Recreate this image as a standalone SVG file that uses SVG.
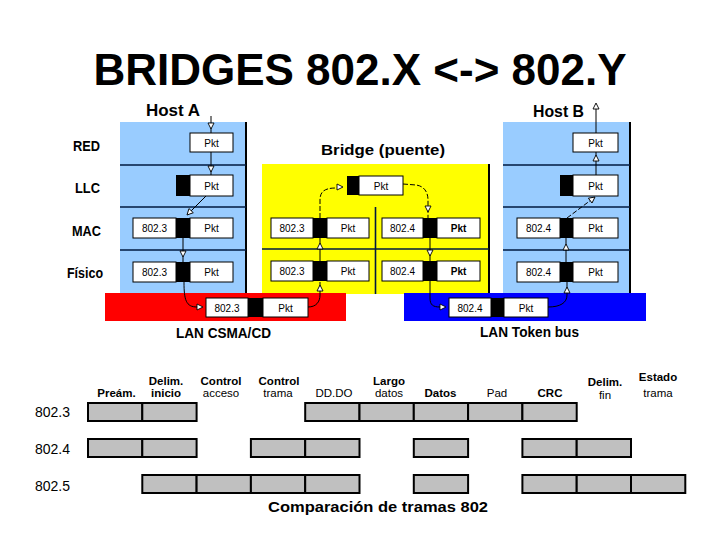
<svg xmlns="http://www.w3.org/2000/svg" width="720" height="540" viewBox="0 0 720 540">
<style>
text{font-family:"Liberation Sans",Arial,sans-serif;fill:#000}
.title{font-size:44px;font-weight:bold}
.lbl{font-size:15.5px;font-weight:bold}
.hl{font-size:16px;font-weight:bold}
.pt{font-size:10px;text-anchor:middle}
.wb{fill:#fff;stroke:#000;stroke-width:1}
.bk{fill:#000}
.sep{stroke:#001a40;stroke-width:1.6}
.edge{stroke:#000;stroke-width:2}
.cell{fill:#c0c0c0;stroke:#000;stroke-width:2}
.hd{font-size:11.5px;text-anchor:middle;font-weight:bold}
.hn{font-size:11.5px;text-anchor:middle}
.rl{font-size:14px}
.cn{fill:none;stroke:#000;stroke-width:1}
.ds{stroke-dasharray:5 2}
.ah{fill:#fff;stroke:#000;stroke-width:0.9}
</style>
<defs>
<path id="ah" d="M-3,-6 L0,0 L3,-6 Z"/>
</defs>

<text class="title" x="360" y="85" text-anchor="middle">BRIDGES 802.X &lt;-&gt; 802.Y</text>

<g id="layer-labels">
<text class="lbl" x="73" y="151" textLength="27" lengthAdjust="spacingAndGlyphs">RED</text>
<text class="lbl" x="75" y="193" textLength="25" lengthAdjust="spacingAndGlyphs">LLC</text>
<text class="lbl" x="72" y="236" textLength="29" lengthAdjust="spacingAndGlyphs">MAC</text>
<text class="lbl" x="67" y="278" textLength="36" lengthAdjust="spacingAndGlyphs">Físico</text>
</g>

<g id="host-a">
<text class="hl" x="146" y="116" textLength="54" lengthAdjust="spacingAndGlyphs">Host A</text>
<rect x="120" y="122" width="126" height="172" fill="#99ccff"/>
<line class="edge" x1="246" y1="122" x2="246" y2="294"/>
<line class="sep" x1="120" y1="165" x2="246" y2="165"/>
<line class="sep" x1="120" y1="207" x2="246" y2="207"/>
<line class="sep" x1="120" y1="250" x2="246" y2="250"/>
<rect class="wb" x="190" y="133" width="43" height="19"/>
<text class="pt" x="211.5" y="147">Pkt</text>
<rect class="bk" x="176" y="175" width="14" height="21"/>
<rect class="wb" x="190" y="175" width="43" height="21"/>
<text class="pt" x="211.5" y="189.5">Pkt</text>
<rect class="wb" x="133" y="218" width="43" height="20"/>
<text class="pt" x="154.5" y="232">802.3</text>
<rect class="bk" x="176" y="218" width="14" height="20"/>
<rect class="wb" x="190" y="218" width="43" height="20"/>
<text class="pt" x="211.5" y="232">Pkt</text>
<rect class="wb" x="133" y="262" width="43" height="20"/>
<text class="pt" x="154.5" y="276">802.3</text>
<rect class="bk" x="176" y="262" width="14" height="20"/>
<rect class="wb" x="190" y="262" width="43" height="20"/>
<text class="pt" x="211.5" y="276">Pkt</text>
</g>

<g id="bridge">
<text class="lbl" x="321" y="155" textLength="124" lengthAdjust="spacingAndGlyphs">Bridge (puente)</text>
<rect x="262" y="164" width="227" height="130" fill="#ffff00"/>
<line class="edge" x1="489" y1="164" x2="489" y2="294"/>
<line class="sep" x1="262" y1="249" x2="489" y2="249"/>
<line class="sep" x1="375.5" y1="207" x2="375.5" y2="294"/>
<rect class="bk" x="347" y="176" width="12" height="19"/>
<rect class="wb" x="359" y="176" width="44" height="19"/>
<text class="pt" x="381" y="189.5">Pkt</text>
<rect class="wb" x="271" y="218" width="42" height="20"/>
<text class="pt" x="292" y="232">802.3</text>
<rect class="bk" x="313" y="218" width="14" height="20"/>
<rect class="wb" x="327" y="218" width="42" height="20"/>
<text class="pt" x="348" y="232">Pkt</text>
<rect class="wb" x="382" y="218" width="41" height="20"/>
<text class="pt" x="402.5" y="232">802.4</text>
<rect class="bk" x="423" y="218" width="14" height="20"/>
<rect class="wb" x="437" y="218" width="43" height="20"/>
<text class="pt" x="458.5" y="232" font-weight="bold">Pkt</text>
<rect class="wb" x="271" y="261" width="42" height="20"/>
<text class="pt" x="292" y="275">802.3</text>
<rect class="bk" x="313" y="261" width="14" height="20"/>
<rect class="wb" x="327" y="261" width="42" height="20"/>
<text class="pt" x="348" y="275">Pkt</text>
<rect class="wb" x="382" y="261" width="41" height="20"/>
<text class="pt" x="402.5" y="275">802.4</text>
<rect class="bk" x="423" y="261" width="14" height="20"/>
<rect class="wb" x="437" y="261" width="43" height="20"/>
<text class="pt" x="458.5" y="275" font-weight="bold">Pkt</text>
</g>

<g id="host-b">
<text class="hl" x="533" y="117" textLength="51" lengthAdjust="spacingAndGlyphs">Host B</text>
<rect x="503" y="122" width="127" height="172" fill="#99ccff"/>
<line class="edge" x1="630" y1="122" x2="630" y2="294"/>
<line class="sep" x1="503" y1="165" x2="630" y2="165"/>
<line class="sep" x1="503" y1="207" x2="630" y2="207"/>
<line class="sep" x1="503" y1="250" x2="630" y2="250"/>
<rect class="wb" x="573" y="133" width="45" height="19"/>
<text class="pt" x="595.5" y="147">Pkt</text>
<rect class="bk" x="560" y="175" width="13" height="21"/>
<rect class="wb" x="573" y="175" width="45" height="21"/>
<text class="pt" x="595.5" y="189.5">Pkt</text>
<rect class="wb" x="517" y="218" width="43" height="20"/>
<text class="pt" x="538.5" y="232">802.4</text>
<rect class="bk" x="560" y="218" width="13" height="20"/>
<rect class="wb" x="573" y="218" width="45" height="20"/>
<text class="pt" x="595.5" y="232">Pkt</text>
<rect class="wb" x="517" y="262" width="43" height="20"/>
<text class="pt" x="538.5" y="276">802.4</text>
<rect class="bk" x="560" y="262" width="13" height="20"/>
<rect class="wb" x="573" y="262" width="45" height="20"/>
<text class="pt" x="595.5" y="276">Pkt</text>
</g>

<g id="lan-csma-cd">
<rect x="105" y="293" width="241" height="28" fill="#ff0000"/>
<rect class="wb" x="206" y="298" width="42" height="19"/>
<text class="pt" x="227" y="311.5">802.3</text>
<rect class="bk" x="248" y="298" width="15" height="19"/>
<rect class="wb" x="263" y="298" width="45" height="19"/>
<text class="pt" x="285.5" y="311.5">Pkt</text>
<text class="lbl" x="176" y="338" font-size="14" textLength="95" lengthAdjust="spacingAndGlyphs">LAN CSMA/CD</text>
</g>

<g id="lan-token-bus">
<rect x="404" y="293" width="242" height="28" fill="#0000ff"/>
<rect class="wb" x="449" y="298" width="42" height="19"/>
<text class="pt" x="470" y="311.5">802.4</text>
<rect class="bk" x="491" y="298" width="13" height="19"/>
<rect class="wb" x="504" y="298" width="44" height="19"/>
<text class="pt" x="526" y="311.5">Pkt</text>
<text class="lbl" x="480" y="337" font-size="14" textLength="99" lengthAdjust="spacingAndGlyphs">LAN Token bus</text>
</g>

<g id="connectors">
<line class="cn" x1="211" y1="116" x2="211" y2="133"/>
<line class="cn" x1="211" y1="152" x2="211" y2="175"/>
<line class="cn" x1="206" y1="196" x2="188" y2="214"/>
<line class="cn" x1="183" y1="238" x2="183" y2="262"/>
<path class="cn" d="M184,282 C184,300 186,307 197,307"/>
<path class="cn" d="M308,307 C316,307 320,302 320,295 L320,282"/>
<line class="cn" x1="320" y1="261" x2="320" y2="238"/>
<path class="cn ds" d="M320,218 L320,200 C320,192 324,188 336,188"/>
<path class="cn ds" d="M403,184 L416,185 C424,186 428,192 428,200 L428,218"/>
<line class="cn" x1="430" y1="238" x2="430" y2="261"/>
<path class="cn" d="M430,281 L430,298 C430,305 433,307 440,307"/>
<path class="cn" d="M548,307 C560,307 567,303 567,295 L567,282"/>
<line class="cn" x1="566" y1="262" x2="566" y2="238"/>
<line class="cn ds" x1="567" y1="218" x2="595" y2="197"/>
<line class="cn" x1="596" y1="175" x2="596" y2="152"/>
<line class="cn" x1="596" y1="133" x2="596" y2="104"/>
<use href="#ah" class="ah" transform="translate(211,129)"/>
<use href="#ah" class="ah" transform="translate(211,172)"/>
<use href="#ah" class="ah" transform="translate(187,215) rotate(43.5)"/>
<use href="#ah" class="ah" transform="translate(183,257)"/>
<use href="#ah" class="ah" transform="translate(203,307) rotate(-90)"/>
<use href="#ah" class="ah" transform="translate(320,285) rotate(180)"/>
<use href="#ah" class="ah" transform="translate(320,243) rotate(180)"/>
<use href="#ah" class="ah" transform="translate(343,187) rotate(-90)"/>
<use href="#ah" class="ah" transform="translate(428,212)"/>
<use href="#ah" class="ah" transform="translate(430,256)"/>
<use href="#ah" class="ah" transform="translate(446,307) rotate(-90)"/>
<use href="#ah" class="ah" transform="translate(567,287) rotate(180)"/>
<use href="#ah" class="ah" transform="translate(566,244) rotate(180)"/>
<use href="#ah" class="ah" transform="translate(595,197) rotate(-127)"/>
<use href="#ah" class="ah" transform="translate(596,155) rotate(180)"/>
<use href="#ah" class="ah" transform="translate(596,103) rotate(180)"/>
</g>

<g id="frame-headers">
<text class="hd" x="116.5" y="397">Preám.</text>
<text class="hd" x="166" y="385">Delim.</text>
<text class="hd" x="166" y="397">inicio</text>
<text class="hd" x="221" y="385">Control</text>
<text class="hn" x="221" y="397">acceso</text>
<text class="hd" x="279" y="385">Control</text>
<text class="hn" x="278" y="397">trama</text>
<text class="hn" x="334" y="397">DD.DO</text>
<text class="hd" x="389" y="385">Largo</text>
<text class="hn" x="389" y="397">datos</text>
<text class="hd" x="440.5" y="397">Datos</text>
<text class="hn" x="497" y="397">Pad</text>
<text class="hd" x="550" y="397">CRC</text>
<text class="hd" x="605" y="386">Delim.</text>
<text class="hn" x="605" y="399">fin</text>
<text class="hd" x="658" y="381">Estado</text>
<text class="hn" x="658" y="397">trama</text>
</g>

<g id="frame-802-3">
<text class="rl" x="35" y="417">802.3</text>
<rect class="cell" x="88" y="403" width="54.3" height="18"/>
<rect class="cell" x="142.3" y="403" width="54.3" height="18"/>
<rect class="cell" x="305.2" y="403" width="54.3" height="18"/>
<rect class="cell" x="359.5" y="403" width="54.3" height="18"/>
<rect class="cell" x="413.8" y="403" width="54.3" height="18"/>
<rect class="cell" x="468.1" y="403" width="54.3" height="18"/>
<rect class="cell" x="522.4" y="403" width="54.3" height="18"/>
</g>

<g id="frame-802-4">
<text class="rl" x="35" y="454">802.4</text>
<rect class="cell" x="88" y="439" width="54.3" height="18"/>
<rect class="cell" x="142.3" y="439" width="54.3" height="18"/>
<rect class="cell" x="250.9" y="439" width="54.3" height="18"/>
<rect class="cell" x="305.2" y="439" width="54.3" height="18"/>
<rect class="cell" x="413.8" y="439" width="54.3" height="18"/>
<rect class="cell" x="522.4" y="439" width="54.3" height="18"/>
<rect class="cell" x="576.7" y="439" width="54.3" height="18"/>
</g>

<g id="frame-802-5">
<text class="rl" x="35" y="491">802.5</text>
<rect class="cell" x="142.3" y="475" width="54.3" height="18"/>
<rect class="cell" x="196.6" y="475" width="54.3" height="18"/>
<rect class="cell" x="250.9" y="475" width="54.3" height="18"/>
<rect class="cell" x="305.2" y="475" width="54.3" height="18"/>
<rect class="cell" x="413.8" y="475" width="54.3" height="18"/>
<rect class="cell" x="522.4" y="475" width="54.3" height="18"/>
<rect class="cell" x="576.7" y="475" width="54.3" height="18"/>
<rect class="cell" x="631" y="475" width="54.3" height="18"/>
</g>

<text class="lbl" x="268" y="512" textLength="220" lengthAdjust="spacingAndGlyphs">Comparación de tramas 802</text>
</svg>
